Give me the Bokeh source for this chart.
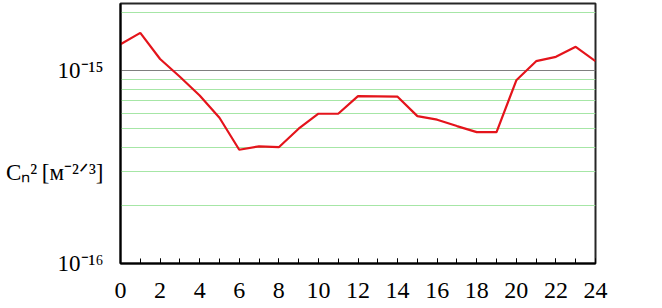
from bokeh.plotting import figure
from bokeh.models import FixedTicker
from bokeh.embed import file_html
from bokeh.resources import INLINE

# ---- data ----
hours = list(range(25))
cn2 = [1.37e-15, 1.57e-15, 1.15e-15, 9.3e-16, 7.44e-16, 5.70e-16, 3.89e-16,
       4.05e-16, 4.01e-16, 5.0e-16, 5.98e-16, 5.98e-16, 7.38e-16, 7.36e-16,
       7.33e-16, 5.81e-16, 5.57e-16, 5.16e-16, 4.80e-16, 4.80e-16, 8.91e-16,
       1.12e-15, 1.18e-15, 1.33e-15, 1.12e-15]
x_ticks = list(range(0, 25, 2))
x_minor = list(range(0, 25))
y_major = [1e-16, 1e-15]
y_major_labels = ["10⁻¹⁶", "10⁻¹⁵"]
y_minor = [2e-16, 3e-16, 4e-16, 5e-16, 6e-16, 7e-16, 8e-16, 9e-16, 2e-15]
y_title = "Cₙ²\u2009[м⁻²ᐟ³]"
y_title_at = 2.96e-16      # vertical position of the axis title (left of the frame)

SERIF = "Liberation Serif"

p = figure(y_axis_type="log", x_range=(0, 24), y_range=(1e-16, 2.23e-15),
           frame_width=475, frame_height=260,
           min_border_left=120, min_border_right=40, min_border_top=3, min_border_bottom=45,
           output_backend="svg", toolbar_location=None)

p.line(hours, cn2, line_color="#e4141b", line_width=2.2)

# x axis
p.xaxis.ticker = FixedTicker(ticks=x_ticks, minor_ticks=x_minor)
p.xaxis.axis_line_width = 2
p.xaxis.axis_line_color = "black"
p.xaxis.major_tick_in = 5
p.xaxis.major_tick_out = 0
p.xaxis.minor_tick_in = 5
p.xaxis.minor_tick_out = 0
p.xaxis.major_tick_line_color = "black"
p.xaxis.minor_tick_line_color = "black"
p.xaxis.major_label_text_font = SERIF
p.xaxis.major_label_text_font_size = "24px"
p.xaxis.major_label_text_color = "black"
p.xaxis.major_label_standoff = 19

# y axis (decade labels + horizontal title)
p.yaxis.ticker = FixedTicker(ticks=y_major + [y_title_at], minor_ticks=[])
overrides = {v: t for v, t in zip(y_major, y_major_labels)}
overrides[y_title_at] = y_title
p.yaxis.major_label_overrides = overrides
p.yaxis.axis_line_width = 2
p.yaxis.axis_line_color = "black"
p.yaxis.major_tick_line_color = None
p.yaxis.minor_tick_line_color = None
p.yaxis.major_label_text_font = SERIF
p.yaxis.major_label_text_font_size = "23px"
p.yaxis.major_label_text_color = "black"
p.yaxis.major_label_standoff = 11

# grids
p.xgrid.visible = False
p.ygrid.ticker = FixedTicker(ticks=y_major, minor_ticks=y_minor)
p.ygrid.grid_line_color = "#7f7f7f"
p.ygrid.grid_line_width = 1
p.ygrid.minor_grid_line_color = "#a6e6a6"
p.ygrid.minor_grid_line_width = 1

p.outline_line_color = "#262626"
p.outline_line_width = 2

open("out.html", "w").write(file_html(p, INLINE))
